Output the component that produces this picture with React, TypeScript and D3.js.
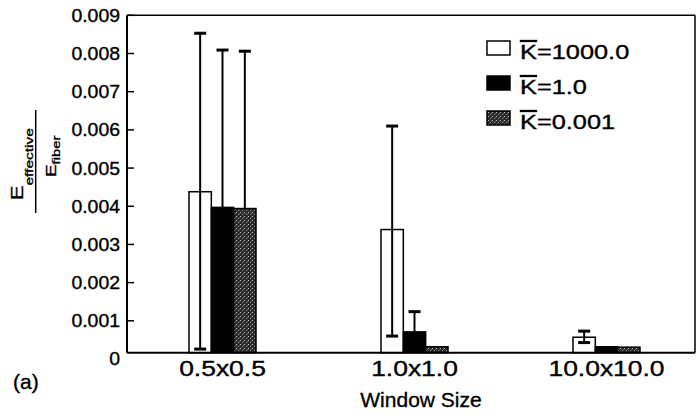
import * as d3 from "d3";

const categories = ["0.5x0.5", "1.0x1.0", "10.0x10.0"];
const seriesKeys = ["k1000", "k1", "k0001"];
const seriesLabels = ["1000.0", "1.0", "0.001"];

// bar heights
const k1000 = [0.00438, 0.00339, 0.00057];
const k1 = [0.00397, 0.00071, 0.00032];
const k0001 = [0.00394, 0.00032, 0.00031];

// error bar ends (null = not drawn)
const k1000Upper = [0.00853, 0.0061, 0.00073];
const k1000Lower = [0.00026, 0.0006, 0.00043];
const k1Upper: (number | null)[] = [0.00809, 0.00124, null];
const k0001Upper: (number | null)[] = [0.00806, null, null];

const yTicks = [0, 0.001, 0.002, 0.003, 0.004, 0.005, 0.006, 0.007, 0.008, 0.009];

const W = 700;
const H = 418;
const FONT = "'Liberation Sans', Arial, Helvetica, sans-serif";

const plot = { left: 127, right: 695, top: 15.3, bottom: 352.7 };

const series = [
  { key: seriesKeys[0], label: seriesLabels[0], values: k1000, upper: k1000Upper, lower: k1000Lower, fill: "#fff" },
  { key: seriesKeys[1], label: seriesLabels[1], values: k1, upper: k1Upper, lower: null, fill: "#000" },
  { key: seriesKeys[2], label: seriesLabels[2], values: k0001, upper: k0001Upper, lower: null, fill: "url(#stipple)" },
];

// scanned text looks a little heavier than plain regular weight
const ink = { fill: "#000", stroke: "#000", strokeWidth: 0.35 };

export default function App() {
  const y = d3.scaleLinear().domain([0, 0.009]).range([359, plot.top]);
  const x0 = d3.scaleBand().domain(categories).range([126.5, 702.5]);
  const x1 = d3.scaleBand().domain(seriesKeys).range([0, 67]);
  const groupLeft = (c: string) => (x0(c) ?? 0) + x0.bandwidth() / 2 - 33.5;
  const fmt = (v: number) => (v === 0 ? "0" : d3.format(".3f")(v));
  const capW = 12;

  return (
    <svg
      width={W}
      height={H}
      style={{ position: "absolute", left: 0, top: 0, background: "#fff" }}
      fontFamily={FONT}
    >
      <defs>
        <pattern id="stipple" width={4} height={4} patternUnits="userSpaceOnUse">
          <rect width={4} height={4} fill="#2c2c2c" />
          <rect x={0} y={0} width={1} height={1} fill="#bdbdbd" />
          <rect x={2} y={2} width={1} height={1} fill="#8c8c8c" />
          <rect x={3} y={1} width={1} height={1} fill="#5e5e5e" />
        </pattern>
      </defs>

      {/* bars */}
      {series.map((s) =>
        categories.map((c, i) => {
          const bx = groupLeft(c) + (x1(s.key) ?? 0);
          const top = y(s.values[i]);
          return (
            <rect
              key={s.key + c}
              x={bx}
              y={top}
              width={x1.bandwidth()}
              height={plot.bottom - top}
              fill={s.fill}
              stroke="#000"
              strokeWidth={1.5}
            />
          );
        })
      )}

      {/* error bars */}
      {series.map((s) =>
        categories.map((c, i) => {
          const up = s.upper[i];
          if (up == null) return null;
          const cx = groupLeft(c) + (x1(s.key) ?? 0) + x1.bandwidth() / 2;
          const lo = s.lower ? s.lower[i] : null;
          const yTop = y(up);
          const yBot = lo != null ? y(lo) : y(s.values[i]);
          return (
            <g key={"e" + s.key + c} stroke="#000">
              <line x1={cx} x2={cx} y1={yTop} y2={yBot} strokeWidth={2} />
              <line x1={cx - capW / 2} x2={cx + capW / 2} y1={yTop} y2={yTop} strokeWidth={3} />
              {lo != null && (
                <line x1={cx - capW / 2} x2={cx + capW / 2} y1={yBot} y2={yBot} strokeWidth={3} />
              )}
            </g>
          );
        })
      )}

      {/* frame */}
      <line x1={plot.left} x2={plot.right} y1={plot.top} y2={plot.top} stroke="#000" strokeWidth={1.5} />
      <line x1={plot.right} x2={plot.right} y1={plot.top} y2={plot.bottom} stroke="#000" strokeWidth={1.5} />
      <line x1={plot.left} x2={plot.right} y1={plot.bottom} y2={plot.bottom} stroke="#000" strokeWidth={2} />
      <line x1={plot.left} x2={plot.left} y1={plot.top} y2={plot.bottom} stroke="#000" strokeWidth={2} />

      {/* y ticks */}
      {yTicks.map((t) => (
        <g key={t}>
          {t > 0 && (
            <line x1={plot.left} x2={plot.left + 7} y1={y(t)} y2={y(t)} stroke="#000" strokeWidth={1.5} />
          )}
          <text
            transform={`translate(120,${y(t)}) scale(1.08,1)`}
            dy="0.36em"
            textAnchor="end"
            fontSize={18}
            {...ink}
          >
            {fmt(t)}
          </text>
        </g>
      ))}

      {/* x labels */}
      {categories.map((c) => (
        <text
          key={c}
          transform={`translate(${(x0(c) ?? 0) + x0.bandwidth() / 2},376) scale(1.23,1)`}
          textAnchor="middle"
          fontSize={21.5}
          {...ink}
        >
          {c}
        </text>
      ))}

      <text x={421} y={407} textAnchor="middle" fontSize={21} {...ink}>
        Window Size
      </text>
      <text x={13} y={389} fontSize={21} {...ink}>
        (a)
      </text>

      {/* y label: E_effective / E_fiber */}
      <g transform="translate(23,200) rotate(-90) scale(1.35,1)">
        <text fontSize={16} {...ink}>
          <tspan>E</tspan>
          <tspan fontSize={11.5} dy={10}>effective</tspan>
        </text>
      </g>
      <line x1={35.7} x2={35.7} y1={110} y2={213} stroke="#000" strokeWidth={1.5} />
      <g transform="translate(56,177) rotate(-90) scale(1.35,1)">
        <text fontSize={14} {...ink}>
          <tspan>E</tspan>
          <tspan fontSize={11} dy={4}>fiber</tspan>
        </text>
      </g>

      {/* legend */}
      {series.map((s, i) => {
        const base = 59 + i * 35;
        return (
          <g key={"l" + s.key}>
            <rect
              x={487}
              y={base - 18}
              width={23}
              height={14}
              fill={s.fill}
              stroke="#000"
              strokeWidth={1.5}
            />
            <text transform={`translate(520,${base}) scale(1.3,1)`} fontSize={19.5} {...ink}>
              <tspan textDecoration="overline">K</tspan>
              <tspan>={s.label}</tspan>
            </text>
          </g>
        );
      })}
    </svg>
  );
}
